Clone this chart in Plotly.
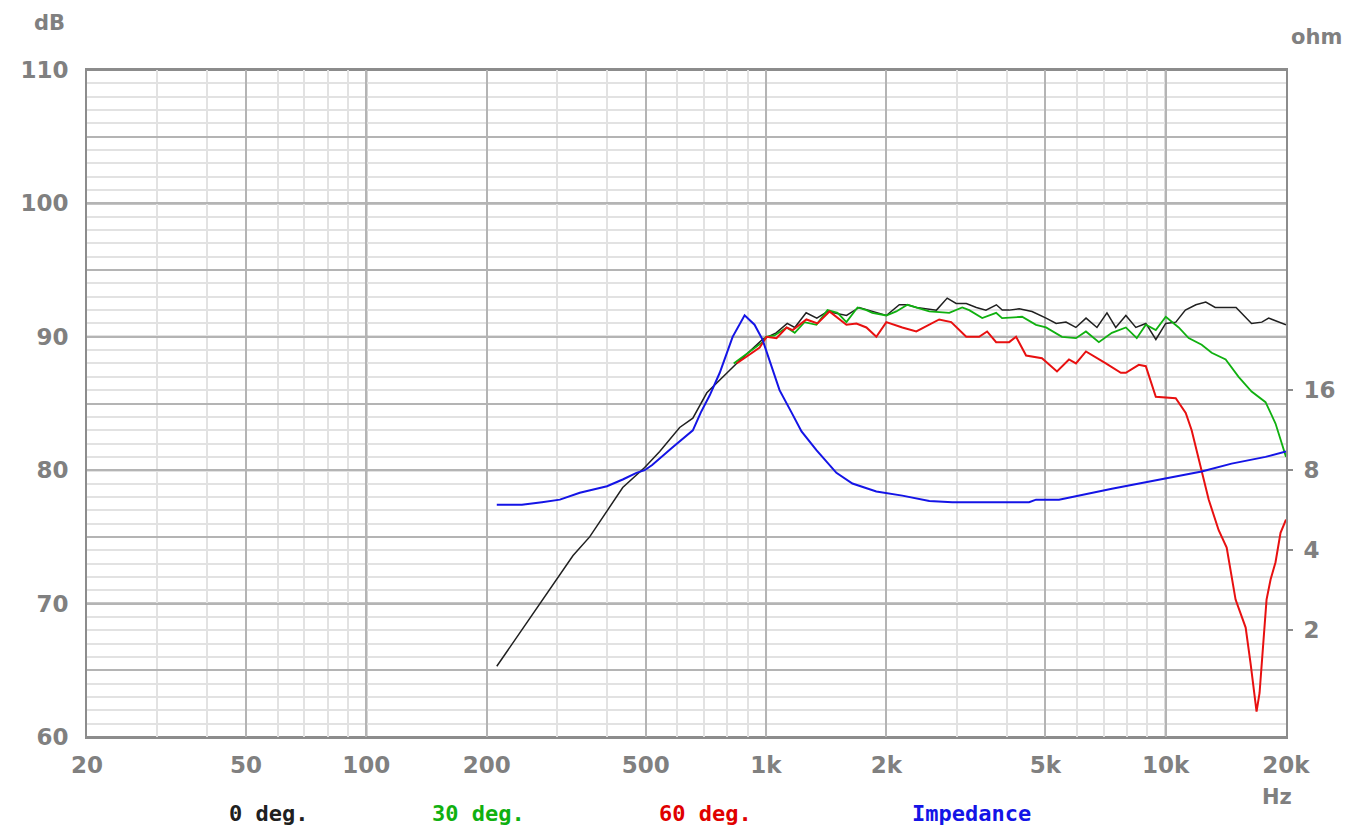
import math
import plotly.graph_objects as go

# ---------------- data ----------------
freq_0deg = [212, 272, 329, 362, 438, 497, 542, 608, 656, 711, 844, 980, 1060, 1130, 1180,
             1260, 1340, 1425, 1590, 1710, 1845, 2000, 2155, 2260, 2380, 2670, 2840, 2990,
             3170, 3360, 3550, 3770, 3900, 4060, 4300, 4630, 5020, 5320, 5630, 5960, 6320,
             6730, 7130, 7500, 7950, 8420, 8920, 9450, 10000, 10600, 11200, 11900, 12600,
             13300, 15000, 16400, 17400, 18100, 20000]
spl_0deg = [65.3, 70.0, 73.6, 75.0, 78.7, 80.2, 81.4, 83.2, 83.9, 85.8, 88.0, 89.8, 90.3, 91.0,
            90.7, 91.8, 91.4, 91.9, 91.6, 92.2, 91.9, 91.6, 92.4, 92.4, 92.2, 92.0, 92.9, 92.5,
            92.5, 92.2, 92.0, 92.4, 92.0, 92.0, 92.1, 91.9, 91.4, 91.0, 91.1, 90.7, 91.4,
            90.7, 91.8, 90.7, 91.6, 90.7, 91.0, 89.8, 91.0, 91.1, 92.0, 92.4, 92.6,
            92.2, 92.2, 91.0, 91.1, 91.4, 90.9]

freq_30deg = [830, 980, 1000, 1050, 1126, 1180, 1248, 1337, 1425, 1510, 1589, 1694, 1783, 1845,
              2000, 2118, 2258, 2377, 2562, 2874, 3097, 3224, 3475, 3765, 3896, 4372, 4738,
              5018, 5502, 5964, 6316, 6804, 7334, 7950, 8466, 8918, 9446, 10004, 10778,
              11416, 12304, 13032, 14128, 15220, 16404, 17776, 18828, 20000]
spl_30deg = [88.0, 89.6, 90.0, 90.1, 90.7, 90.3, 91.1, 90.9, 92.0, 91.8, 91.1, 92.2, 92.0, 91.8,
             91.6, 91.9, 92.4, 92.2, 91.9, 91.8, 92.2, 92.0, 91.4, 91.8, 91.4, 91.5, 90.9,
             90.7, 90.0, 89.9, 90.4, 89.6, 90.3, 90.7, 89.9, 90.9, 90.5, 91.5, 90.7,
             89.9, 89.4, 88.8, 88.3, 87.0, 85.9, 85.1, 83.5, 81.0]

freq_60deg = [844, 964, 1003, 1062, 1126, 1166, 1262, 1345, 1441, 1589, 1684, 1783, 1888, 2000,
              2193, 2377, 2712, 2906, 3169, 3414, 3574, 3765, 4058, 4223, 4474, 4903, 5346,
              5728, 5964, 6316, 7084, 7724, 7950, 8564, 8918, 9446, 10596, 11224, 11614,
              12304, 12810, 13570, 14210, 14958, 15852, 16310, 16786, 16880, 17174, 17372,
              17676, 17880, 18300, 18828, 19380, 20000]
spl_60deg = [88.0, 89.2, 90.0, 89.9, 90.7, 90.5, 91.3, 91.0, 91.9, 90.9, 91.0, 90.7, 90.0, 91.1,
             90.7, 90.4, 91.3, 91.1, 90.0, 90.0, 90.4, 89.6, 89.6, 90.0, 88.6, 88.4, 87.4,
             88.3, 88.0, 88.9, 88.0, 87.3, 87.3, 87.9, 87.8, 85.5, 85.4, 84.3, 83.0,
             79.9, 77.8, 75.5, 74.2, 70.3, 68.2, 65.5, 62.8, 61.9, 63.3, 65.2,
             67.8, 70.3, 71.8, 73.1, 75.3, 76.3]

freq_imp = [212, 245, 275, 305, 342, 400, 438, 474, 497, 519, 583, 656, 687, 723, 766, 825, 884,
            936, 980, 1021, 1081, 1158, 1227, 1337, 1500, 1645, 1888, 2193, 2562, 2924, 4552,
            4738, 5408, 7334, 10004, 12304, 14618, 17776, 20000]
ohm_imp = [5.93, 5.93, 6.06, 6.20, 6.58, 6.96, 7.38, 7.82, 8.0, 8.37, 9.73, 11.3, 13.2, 15.3,
           18.6, 25.4, 30.6, 28.2, 24.8, 20.8, 16.0, 13.2, 11.2, 9.51, 7.82, 7.13, 6.65, 6.42,
           6.13, 6.06, 6.06, 6.20, 6.20, 6.81, 7.46, 7.91, 8.47, 8.98, 9.40]

x_tickvals = [20, 50, 100, 200, 500, 1000, 2000, 5000, 10000, 20000]
x_ticktext = ["20", "50", "100", "200", "500", "1k", "2k", "5k", "10k", "20k"]
x_minor = [30, 40, 60, 70, 80, 90, 300, 400, 600, 700, 800, 900,
           3000, 4000, 6000, 7000, 8000, 9000]
x_decades = [100, 1000, 10000]
y_tickvals = [60, 65, 70, 75, 80, 85, 90, 95, 100, 105, 110]
y_ticktext = ["60", "", "70", "", "80", "", "90", "", "100", "", "110"]
y_major = [60, 70, 80, 90, 100, 110]
ohm_tickvals = [2, 4, 8, 16]
ohm_ticktext = ["2", "4", "8", "16"]

# ---------------- style ----------------
GRAY_TXT = "#808080"
DARK = "#8c8c8c"
MED = "#b4b4b4"
LIGHT = "#e2e2e2"
FONT = "DejaVu Sans"
MONO = "DejaVu Sans Mono"

# ohm axis aligned: 8 ohm at 80 dB, factor 2 per 6 dB
db_lo, db_hi = 60, 110
ohm_lo = 8 * 2 ** ((db_lo - 80) / 6)
ohm_hi = 8 * 2 ** ((db_hi - 80) / 6)

fig = go.Figure()
fig.add_trace(go.Scatter(x=freq_imp, y=ohm_imp, mode="lines", yaxis="y2",
                         line=dict(color="#1414e6", width=2), showlegend=False))
fig.add_trace(go.Scatter(x=freq_0deg, y=spl_0deg, mode="lines",
                         line=dict(color="#202020", width=1.5), showlegend=False))
fig.add_trace(go.Scatter(x=freq_30deg, y=spl_30deg, mode="lines",
                         line=dict(color="#10b010", width=1.8), showlegend=False))
fig.add_trace(go.Scatter(x=freq_60deg, y=spl_60deg, mode="lines",
                         line=dict(color="#e81010", width=2), showlegend=False))

shapes = []
for f in x_decades:
    shapes.append(dict(type="line", xref="x", yref="paper", x0=f, x1=f, y0=0, y1=1,
                       line=dict(color=DARK, width=2), layer="below"))
for d in y_major:
    shapes.append(dict(type="line", xref="paper", yref="y", x0=0, x1=1, y0=d, y1=d,
                       line=dict(color=DARK, width=2), layer="below"))

tick_font = dict(family=FONT, size=23, color=GRAY_TXT, weight="bold")

# page body has an 8px margin: figure is 1340x821, placed at (8, 8)
fig.update_layout(
    width=1340, height=821,
    margin=dict(l=78, r=61, t=62, b=92),
    paper_bgcolor="white", plot_bgcolor="white",
    shapes=shapes,
    xaxis=dict(
        type="log", range=[math.log10(20), math.log10(20000)],
        tickmode="array", tickvals=x_tickvals, ticktext=x_ticktext,
        showgrid=True, gridcolor=MED, gridwidth=2,
        minor=dict(tickmode="array", tickvals=x_minor, showgrid=True,
                   gridcolor=LIGHT, gridwidth=2, ticks=""),
        ticks="", tickfont=tick_font, ticklabelstandoff=6,
        showline=True, linecolor=DARK, linewidth=2, mirror=True,
        zeroline=False, fixedrange=True,
    ),
    yaxis=dict(
        range=[db_lo, db_hi],
        tickmode="array", tickvals=y_tickvals, ticktext=y_ticktext,
        showgrid=True, gridcolor=MED, gridwidth=2,
        minor=dict(dtick=1, tick0=60, showgrid=True, gridcolor=LIGHT, gridwidth=2, ticks=""),
        ticks="", tickfont=tick_font, ticklabelstandoff=12,
        showline=True, linecolor=DARK, linewidth=2, mirror=True,
        zeroline=False, fixedrange=True,
    ),
    yaxis2=dict(
        type="log", overlaying="y", side="right",
        range=[math.log10(ohm_lo), math.log10(ohm_hi)],
        tickmode="array", tickvals=ohm_tickvals, ticktext=ohm_ticktext,
        showgrid=False, zeroline=False,
        ticks="outside", ticklen=5, tickwidth=2, tickcolor=DARK,
        tickfont=tick_font, ticklabelstandoff=6,
        showline=True, linecolor=DARK, linewidth=2, fixedrange=True,
    ),
)

ann_font = dict(family=MONO, size=22, weight="bold")
lbl_font = dict(family=FONT, size=21, color=GRAY_TXT, weight="bold")
annotations = [
    dict(text="dB", x=-0.0316, y=1.07, font=lbl_font),
    dict(text="ohm", x=1.0258, y=1.0495, font=lbl_font),
    dict(text="Hz", x=0.9925, y=-0.09, font=lbl_font),
    dict(text="0 deg.", x=0.1515, y=-0.1154, font=dict(ann_font, color="#202020")),
    dict(text="30 deg.", x=0.3264, y=-0.1154, font=dict(ann_font, color="#10b010")),
    dict(text="60 deg.", x=0.5162, y=-0.1154, font=dict(ann_font, color="#e00000")),
    dict(text="Impedance", x=0.7377, y=-0.1154, font=dict(ann_font, color="#1414e6")),
]
for a in annotations:
    fig.add_annotation(xref="paper", yref="paper", showarrow=False,
                       xanchor="center", yanchor="middle", **a)

fig.write_html("out.html")
